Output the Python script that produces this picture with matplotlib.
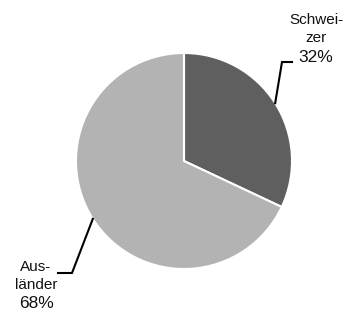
import numpy as np
import matplotlib
matplotlib.use("Agg")
import matplotlib.pyplot as plt

plt.rcParams['font.family'] = ['Liberation Sans', 'DejaVu Sans']

# Data
labels = ["Schwei-\nzer", "Aus-\nländer"]
shares = [32, 68]
colors = ['#5f5f5f', '#b3b3b3']

W, H = 351, 309
fig = plt.figure(figsize=(W / 100, H / 100), dpi=100)
ax = fig.add_axes([0, 0, 1, 1])

cx, cy, r = 184, H - 161, 108
wedges, _ = ax.pie(shares, colors=colors, startangle=90, counterclock=False,
                   center=(cx, cy), radius=r, frame=True,
                   wedgeprops=dict(edgecolor='white', linewidth=1.5))
ax.set_xlim(0, W)
ax.set_ylim(0, H)
ax.set_aspect('equal')
ax.axis('off')

# label layout: elbow point, line end, text anchor
layout = [
    dict(elbow=(282, H - 62), end=(292, H - 62), text=(316, H - 20), pct_y=H - 58),
    dict(elbow=(72, H - 273), end=(58, H - 273), text=(36, H - 267), pct_y=H - 303),
]

for w, lab, val, lay in zip(wedges, labels, shares, layout):
    mid = np.deg2rad((w.theta1 + w.theta2) / 2)
    px, py = cx + r * np.cos(mid), cy + r * np.sin(mid)
    ex, ey = lay['elbow']
    fx, fy = lay['end']
    ax.plot([px, ex, fx], [py, ey, fy], color='black', lw=1.5,
            solid_joinstyle='miter', zorder=5)
    name_lines = lab.split("\n")
    tx, ty = lay['text']
    ax.text(tx, ty, name_lines[0], ha='center', va='center', fontsize=11, color='#111111')
    ax.text(tx, ty - 18, name_lines[1], ha='center', va='center', fontsize=11, color='#111111')
    ax.text(tx, lay['pct_y'], f"{val}%", ha='center', va='center', fontsize=12.5, color='#111111')

fig.savefig("out.png", dpi=100)
